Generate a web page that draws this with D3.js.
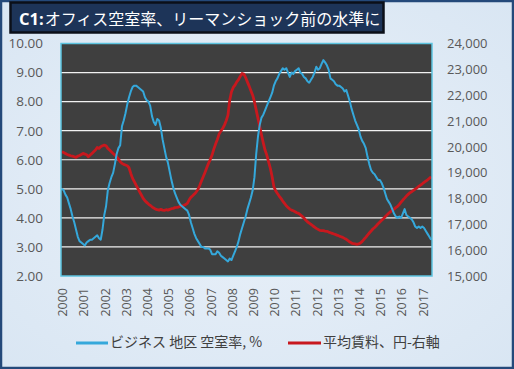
<!DOCTYPE html>
<html><head><meta charset="utf-8">
<script src="https://cdn.jsdelivr.net/npm/d3@7"></script>
<style>html,body{margin:0;padding:0;background:#e2ecf6;}svg{display:block;}</style>
</head><body>
<svg id="c" width="514" height="369"></svg>
<script>
const startYear = 2000;
const yearLabels = ["2000","2001","2002","2003","2004","2005","2006","2007","2008","2009","2010","2011","2012","2013","2014","2015","2016","2017"];
// Tokyo business district office vacancy rate, %, monthly from 2000-01
const vacancy = [
5.0,4.95,4.8,4.7,4.5,4.3,4.05,3.85,3.6,3.35,3.2,3.15,
3.1,3.05,3.15,3.2,3.25,3.25,3.3,3.35,3.4,3.3,3.25,3.6,
4.1,4.4,4.95,5.2,5.4,5.55,5.85,6.2,6.4,6.5,7.15,7.35,
7.6,7.9,8.15,8.35,8.5,8.55,8.55,8.5,8.45,8.4,8.35,8.15,
8.05,8.0,7.85,7.5,7.3,7.2,7.4,7.35,7.1,6.7,6.4,6.1,
5.9,5.6,5.3,5.05,4.85,4.7,4.55,4.45,4.4,4.35,4.3,4.25,
4.1,3.85,3.65,3.45,3.3,3.2,3.1,3.0,3.0,2.95,2.95,2.95,
2.9,2.75,2.75,2.75,2.85,2.8,2.7,2.65,2.6,2.55,2.5,2.6,
2.55,2.7,2.85,3.0,3.2,3.45,3.65,3.85,4.05,4.3,4.5,4.7,
4.95,5.4,6.2,6.8,7.2,7.45,7.55,7.7,7.85,8.0,8.15,8.3,
8.55,8.7,8.8,8.95,9.05,9.15,9.1,9.15,9.0,8.85,9.0,8.95,
9.05,9.1,9.15,9.0,8.95,8.85,8.8,8.7,8.65,8.75,8.85,9.0,
9.2,9.1,9.15,9.3,9.43,9.35,9.25,9.1,8.8,8.75,8.7,8.6,
8.55,8.55,8.5,8.45,8.35,8.4,8.2,8.0,7.75,7.55,7.35,7.2,
7.05,6.8,6.65,6.55,6.4,6.1,5.85,5.65,5.55,5.5,5.4,5.3,
5.3,5.2,5.05,4.85,4.65,4.55,4.45,4.3,4.15,4.05,4.0,4.05,
4.0,4.15,4.3,4.1,4.05,4.0,3.95,3.85,3.7,3.65,3.7,3.65,
3.7,3.65,3.55,3.45,3.35,3.25
];
// Average rent, yen per tsubo, monthly from 2000-01 (right axis)
const rent = [
19810,19780,19745,19705,19680,19655,19640,19615,19590,19640,19665,19705,
19745,19720,19695,19615,19680,19745,19810,19875,19975,19940,20005,20040,
20065,20040,19940,19875,19810,19745,19680,19615,19525,19420,19360,19320,
19295,19270,19190,18970,18780,18650,18520,18390,18260,18135,18005,17915,
17850,17785,17735,17680,17630,17590,17565,17550,17580,17550,17540,17565,
17550,17580,17605,17620,17645,17655,17670,17695,17710,17735,17770,17810,
17940,18045,18105,18170,18250,18350,18505,18675,18840,19010,19190,19360,
19510,19680,19910,20105,20285,20490,20610,20710,20840,21010,21225,21805,
22130,22300,22390,22515,22605,22735,22840,22815,22685,22515,22350,22170,
22000,21745,21420,21100,20775,20455,20155,19875,19680,19420,19165,18840,
18455,18300,18195,18095,18005,17900,17810,17720,17655,17590,17550,17525,
17490,17450,17425,17370,17310,17245,17165,17100,17050,17000,16945,16895,
16845,16805,16765,16755,16755,16740,16730,16700,16675,16650,16625,16600,
16575,16545,16520,16495,16455,16420,16365,16315,16275,16250,16240,16225,
16240,16275,16340,16420,16495,16585,16665,16740,16820,16880,16945,17025,
17090,17155,17220,17295,17360,17425,17490,17540,17590,17645,17695,17770,
17860,17940,18015,18095,18160,18225,18260,18315,18365,18415,18470,18520,
18570,18625,18675,18725,18780,18840
];
const leftTicks = [2,3,4,5,6,7,8,9,10];
const rightTicks = [15000,16000,17000,18000,19000,20000,21000,22000,23000,24000];
const titleText = "オフィス空室率、リーマンショック前の水準に";
const titlePrefix = "C1:";
const legendNames = ["ビジネス 地区 空室率, %", "平均賃料、円-右軸"];

const months = vacancy.map((_, i) => i);
const svg = d3.select("#c");
const W = 514, H = 369;
const plot = {l: 61, r: 432, t: 43.5, b: 276};
const blue = "#35a8db", red = "#c8181e";
const axisColor = "#595959";
const numFont = "'Open Sans', 'Liberation Sans', sans-serif";
const cjkFont = "'Noto Sans CJK JP', sans-serif";

// background
svg.append("rect").attr("x",0).attr("y",0).attr("width",W).attr("height",H).attr("fill","#e2ecf6");
const defs = svg.append("defs");
const rg = defs.append("radialGradient").attr("id","bgg").attr("cx","50%").attr("cy","50%").attr("r","70%");
rg.append("stop").attr("offset","0%").attr("stop-color","#eaf1f9");
rg.append("stop").attr("offset","100%").attr("stop-color","#d9e6f3");
svg.append("rect").attr("x",0).attr("y",0).attr("width",W).attr("height",H).attr("fill","url(#bgg)");
svg.append("rect").attr("x",1).attr("y",1).attr("width",W-2).attr("height",H-2)
  .attr("fill","none").attr("stroke","#24497a").attr("stroke-width",2.5);

// title
svg.append("rect").attr("x",10.5).attr("y",2.5).attr("width",373).attr("height",30)
  .attr("fill","#1d3458").attr("stroke","#0b0f18").attr("stroke-width",2.5);
const tt = svg.append("text").attr("x",19).attr("y",24.5).attr("fill","#ffffff");
tt.append("tspan").attr("font-family","'Open Sans', sans-serif").attr("font-weight","bold").attr("font-size",16.5).text(titlePrefix);
tt.append("tspan").attr("font-family",cjkFont).attr("font-size",16).attr("dx",1).text(titleText);

// scales
const x = d3.scalePoint().domain(months).range([plot.l, plot.r]).padding(0.5);
const yL = d3.scaleLinear().domain([2,10]).range([plot.b, plot.t]);
const yR = d3.scaleLinear().domain([15000,24000]).range([plot.b, plot.t]);

// plot area
svg.append("rect").attr("x",plot.l).attr("y",plot.t).attr("width",plot.r-plot.l).attr("height",plot.b-plot.t)
  .attr("fill","#3f3f3f");
svg.append("g").selectAll("line").data(leftTicks.filter(d => d>2 && d<10)).join("line")
  .attr("x1",plot.l).attr("x2",plot.r).attr("y1",d=>yL(d)).attr("y2",d=>yL(d))
  .attr("stroke","#f2f2f2").attr("stroke-width",1.2);

// lines
const clip = defs.append("clipPath").attr("id","pc");
clip.append("rect").attr("x",plot.l).attr("y",plot.t).attr("width",plot.r-plot.l).attr("height",plot.b-plot.t);
svg.append("path").datum(rent).attr("clip-path","url(#pc)")
  .attr("d", d3.line().x((d,i)=>x(i)).y(d=>yR(d)))
  .attr("fill","none").attr("stroke",red).attr("stroke-width",2.8).attr("stroke-linejoin","round");
svg.append("path").datum(vacancy).attr("clip-path","url(#pc)")
  .attr("d", d3.line().x((d,i)=>x(i)).y(d=>yL(d)))
  .attr("fill","none").attr("stroke",blue).attr("stroke-width",2).attr("stroke-linejoin","round");

svg.append("rect").attr("x",plot.l).attr("y",plot.t).attr("width",plot.r-plot.l).attr("height",plot.b-plot.t)
  .attr("fill","none").attr("stroke","#5cc3df").attr("stroke-width",1.5);

// left axis
const gL = svg.append("g").attr("transform",`translate(${plot.l-18},0)`)
  .call(d3.axisLeft(yL).tickValues(leftTicks).tickFormat(d3.format(".2f")).tickSize(0).tickPadding(0));
gL.select(".domain").remove();
gL.selectAll("text").attr("fill",axisColor).attr("font-size",13.5).attr("font-family",numFont);

// right axis
const gR = svg.append("g").attr("transform",`translate(${plot.r+15},0)`)
  .call(d3.axisRight(yR).tickValues(rightTicks).tickFormat(d3.format(",")).tickSize(0).tickPadding(0));
gR.select(".domain").remove();
gR.selectAll("text").attr("fill",axisColor).attr("font-size",13).attr("font-family",numFont);

// bottom axis
const yearTicks = yearLabels.map((y,i)=>i*12);
const gB = svg.append("g").attr("transform",`translate(0,${plot.b})`)
  .call(d3.axisBottom(x).tickValues(yearTicks).tickFormat((d,i)=>yearLabels[i]).tickSize(0).tickPadding(0));
gB.select(".domain").remove();
gB.selectAll("text").attr("fill",axisColor).attr("font-size",12.5).attr("font-family",numFont)
  .attr("text-anchor","end").attr("dy",null).attr("y",0).attr("x",0)
  .attr("transform","translate(1.5,12) rotate(-90)").attr("dominant-baseline","middle");

// legend
const legY = 343;
const leg = [{x1:76,x2:108,c:blue,w:3,tx:110,t:legendNames[0]},{x1:288,x2:321,c:red,w:3,tx:323,t:legendNames[1]}];
leg.forEach(l=>{
  svg.append("line").attr("x1",l.x1).attr("x2",l.x2).attr("y1",legY).attr("y2",legY).attr("stroke",l.c).attr("stroke-width",l.w);
  svg.append("text").attr("x",l.tx).attr("y",legY).attr("dominant-baseline","middle")
    .attr("font-family",cjkFont).attr("font-size",14).attr("fill","#404040").text(l.t);
});
</script>
</body></html>
